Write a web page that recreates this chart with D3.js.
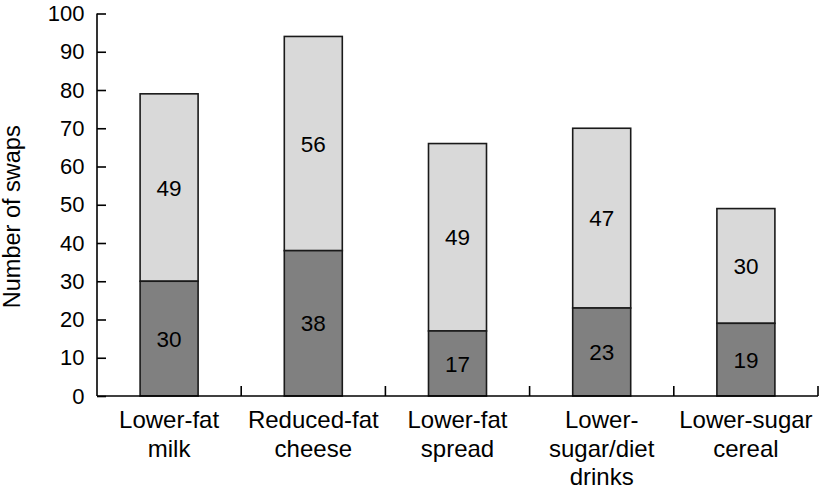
<!DOCTYPE html>
<html><head><meta charset="utf-8">
<script src="https://cdn.jsdelivr.net/npm/d3@7"></script>
<style>body{margin:0;background:#fff}svg{display:block}text{font-family:"Liberation Sans",Arial,Helvetica,sans-serif;fill:#000}</style>
</head><body>
<svg id="c" width="821" height="490"></svg>
<script>
const categories = [["Lower-fat","milk"],["Reduced-fat","cheese"],["Lower-fat","spread"],["Lower-","sugar/diet","drinks"],["Lower-sugar","cereal"]];
const bottomValues = [30, 38, 17, 23, 19];
const topValues = [49, 56, 49, 47, 30];
const yTicks = [0,10,20,30,40,50,60,70,80,90,100];

const svg = d3.select("#c");
const x0 = 97, x1 = 818, yB = 396, yT = 13.5;
const x = d3.scaleBand().domain(d3.range(categories.length)).range([x0, x1]);
const y = d3.scaleLinear().domain([0,100]).range([yB, yT]);
const bw = 58;

const g = svg.append("g");
categories.forEach((c,i)=>{
  const cx = x(i) + x.bandwidth()/2;
  const b = bottomValues[i], t = topValues[i];
  g.append("rect").attr("x", cx-bw/2).attr("y", y(b+t)).attr("width", bw).attr("height", y(b)-y(b+t))
    .attr("fill","#d9d9d9").attr("stroke","#1a1a1a").attr("stroke-width",1.6);
  g.append("rect").attr("x", cx-bw/2).attr("y", y(b)).attr("width", bw).attr("height", y(0)-y(b))
    .attr("fill","#808080").attr("stroke","#1a1a1a").attr("stroke-width",1.6);
  g.append("text").attr("x", cx).attr("y", (y(0)+y(b))/2).attr("dy","0.36em").attr("text-anchor","middle")
    .style("font-size","22.5px").text(b);
  g.append("text").attr("x", cx).attr("y", (y(b)+y(b+t))/2).attr("dy","0.36em").attr("text-anchor","middle")
    .style("font-size","22.5px").text(t);
  const tx = svg.append("text").attr("text-anchor","middle").style("font-size","24px");
  c.forEach((line,j)=>{
    tx.append("tspan").attr("x", cx).attr("y", 428 + j*28.5).text(line);
  });
});

// y axis
const ya = svg.append("g").attr("transform",`translate(${x0},0)`)
  .call(d3.axisLeft(y).tickValues(yTicks).tickSize(-9).tickPadding(12.5));
ya.select(".domain").attr("stroke","#000").attr("stroke-width",1.6).attr("d",`M0,${yT}V${yB}`);
ya.selectAll(".tick line").attr("stroke","#000").attr("stroke-width",1.6);
ya.selectAll(".tick text").style("font-size","22px").attr("font-family",null).attr("fill","#000");

// x axis
const xa = svg.append("g").attr("transform",`translate(0,${yB})`);
xa.append("line").attr("x1",x0).attr("x2",x1).attr("stroke","#000").attr("stroke-width",1.6);
const bounds = d3.range(categories.length).map(i=>x(i)+x.bandwidth());
xa.selectAll("line.t").data(bounds).join("line").attr("class","t")
  .attr("x1",d=>d).attr("x2",d=>d).attr("y1",0).attr("y2",-10).attr("stroke","#000").attr("stroke-width",1.6);

svg.append("text").attr("transform",`translate(20,${(yT+yB)/2 + 12}) rotate(-90)`).attr("text-anchor","middle")
  .style("font-size","23.5px").text("Number of swaps");
</script>
</body></html>
